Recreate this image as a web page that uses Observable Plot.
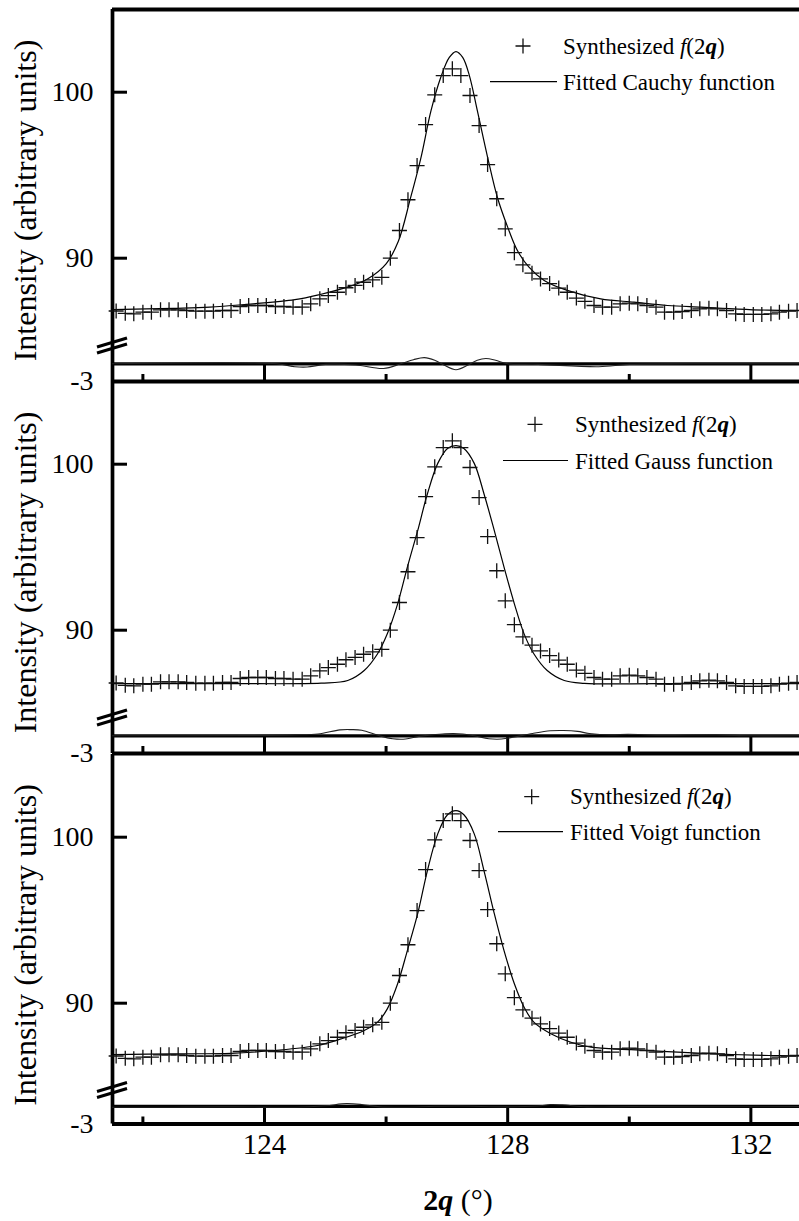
<!DOCTYPE html>
<html><head><meta charset="utf-8">
<script src="https://cdn.jsdelivr.net/npm/d3@7"></script>
<script src="https://cdn.jsdelivr.net/npm/@observablehq/plot@0.6"></script>
<style>
html,body{margin:0;padding:0;background:#fff;}
#chart{position:relative;width:799px;height:1221px;overflow:hidden;background:#fff;font-family:"Liberation Serif","Times New Roman",serif;}
#chart svg{position:absolute;left:0;overflow:visible;}
</style></head><body><div id="chart"></div>
<script>
// ---------- data ----------
const twoTheta = [121.56,121.71,121.85,122.00,122.14,122.29,122.43,122.58,122.72,122.87,
  123.02,123.16,123.31,123.45,123.60,123.74,123.89,124.03,124.18,124.32,
  124.47,124.62,124.76,124.91,125.05,125.20,125.34,125.49,125.63,125.78,
  125.93,126.07,126.22,126.36,126.51,126.65,126.80,126.94,127.09,127.23,
  127.38,127.53,127.67,127.82,127.96,128.11,128.25,128.40,128.54,128.69,
  128.84,128.98,129.13,129.27,129.42,129.56,129.71,129.85,130.00,130.14,
  130.29,130.44,130.58,130.73,130.87,131.02,131.16,131.31,131.45,131.60,
  131.75,131.89,132.04,132.18,132.33,132.47,132.62,132.76];
const synthesized = [86.82,86.68,86.65,86.75,86.75,86.89,86.89,86.89,86.85,86.81,
  86.81,86.81,86.85,86.85,87.09,87.15,87.15,87.15,87.09,87.09,
  87.05,87.05,87.25,87.55,87.75,87.95,88.22,88.36,88.55,88.70,
  88.85,90.00,91.67,93.52,95.58,98.05,99.84,101.00,101.41,101.00,
  99.80,97.99,95.64,93.58,91.77,90.33,89.60,89.10,88.75,88.47,
  88.20,87.95,87.60,87.40,87.15,87.05,87.05,87.25,87.29,87.25,
  87.15,87.05,86.75,86.75,86.79,86.85,86.95,86.99,86.95,86.85,
  86.65,86.61,86.61,86.61,86.65,86.75,86.81,86.85];

const cauchyX = [121.5,122.5,123.1,123.7,124.5,124.9,125.4,125.7,126.0,126.2,126.4,126.57,126.74,126.9,127.04,127.15,127.26,127.37,127.5,127.67,127.83,128.0,128.16,128.35,128.6,128.98,129.53,130.08,130.63,131.18,131.72,132.27,132.8];
const cauchyY = [86.90,86.98,87.05,87.22,87.50,87.80,88.30,88.76,89.66,91.00,93.60,96.00,98.90,100.90,102.10,102.45,102.10,101.00,98.90,96.08,93.67,91.87,90.46,89.46,88.66,88.06,87.55,87.35,87.15,87.05,86.95,86.87,86.85];

const gaussX = [121.5,122.5,123.45,124.93,125.37,125.64,125.86,126.02,126.19,126.35,126.52,126.68,126.85,127.01,127.15,127.28,127.45,127.61,127.78,127.94,128.11,128.27,128.43,128.65,128.93,129.26,130.5,132.8];
const gaussY = [86.78,86.78,86.78,86.81,86.97,87.57,88.58,89.78,91.59,93.80,96.00,98.22,100.05,100.95,101.12,100.95,100.05,98.22,96.00,93.80,91.59,89.78,88.58,87.57,86.97,86.80,86.78,86.78];

const voigtX = [121.5,122.5,123.45,124.16,124.87,125.26,125.64,125.86,126.02,126.19,126.35,126.52,126.68,126.85,127.01,127.15,127.28,127.45,127.61,127.78,127.94,128.11,128.27,128.43,128.71,129.04,129.37,130.03,130.8,131.6,132.3,132.8];
const voigtY = [86.90,86.95,86.98,87.15,87.45,87.85,88.36,88.86,89.66,91.17,93.17,95.39,97.99,100.20,101.35,101.60,101.35,100.20,97.99,95.39,93.17,91.17,89.76,88.86,88.16,87.65,87.35,87.20,87.05,86.92,86.85,86.82];

const cauchyResX = [121.5,124.2,124.5,124.7,125.0,125.5,125.96,126.24,126.45,126.63,126.8,126.95,127.15,127.35,127.5,127.64,127.8,128.0,128.5,129.5,130.0,131.0,132.8];
const cauchyRes  = [0,0,-0.5,-0.55,-0.1,-0.2,-0.8,0,0.7,1.05,0.6,-0.2,-1.0,-0.2,0.6,0.9,0.6,0,-0.1,-0.5,-0.1,0,0];

const gaussResX = [121.5,123.7,124.5,124.88,125.24,125.42,125.6,125.89,126.11,126.32,126.54,126.75,126.97,127.11,127.26,127.45,127.69,127.9,128.11,128.41,128.7,128.92,129.15,129.34,129.7,129.98,130.5,131.43,132.0,132.8];
const gaussRes  = [0,0.05,0.15,0.3,1.0,1.05,0.95,0,-0.5,-0.55,-0.1,0.15,0.35,0.4,0.3,0,-0.5,-0.55,-0.2,0.4,0.85,0.9,0.75,0.4,0.15,0.25,0.1,0.15,0,0];

const voigtResX = [121.5,122.5,123.5,124.5,125.0,125.35,125.6,125.9,126.3,126.8,127.2,128.0,128.5,128.7,128.9,129.3,130.0,131.0,132.8];
const voigtRes  = [-0.15,-0.15,-0.1,-0.15,0.1,0.45,0.3,-0.1,-0.15,0,0.05,-0.1,0.05,0.3,0.25,-0.1,-0.05,-0.1,-0.05];

const xMajorTicks = [124, 128, 132];
const xMinorTicks = [122, 126, 130];
const yTicks = [90, 100];
const residTicks = [-3];
const residZero = [0];
const fitNames = ["Cauchy", "Gauss", "Voigt"];

// ---------- layout ----------
const FONT = '"Liberation Serif","Times New Roman",serif';
const W = 799, ML = 112;
const xDomain = [121.5, 132.8];
const pxPerUnit = 16.6, residPxPerUnit = 5.9;
const upperH = 334;
const yHigh = 100 + 82.7 / pxPerUnit;
const yLow = yHigh - upperH / pxPerUnit;

const synth = twoTheta.map((x, i) => ({x, y: synthesized[i]}));
const zip = (xs, ys) => xs.map((x, i) => ({x, y: ys[i]}));

const panels = [
  {top: 9,     fit: zip(cauchyX, cauchyY), res: zip(cauchyResX, cauchyRes), rh: 38,
   plus: [523, 46], line: [490, 557, 81.7], tx: 563, b1: 53.5, b2: 90},
  {top: 381,   fit: zip(gaussX, gaussY), res: zip(gaussResX, gaussRes), rh: 38,
   plus: [535, 424.3], line: [503, 568, 460.5], tx: 575, b1: 431.5, b2: 468.5},
  {top: 753.5, fit: zip(voigtX, voigtY), res: zip(voigtResX, voigtRes), rh: 35.5,
   plus: [531.7, 796.7], line: [498, 563, 831.7], tx: 570, b1: 804, b2: 840}
];

const chart = document.getElementById("chart");
const baseStyle = {background: "transparent", overflow: "visible", fontFamily: FONT, color: "black"};

panels.forEach((p, k) => {
  const upper = Plot.plot({
    width: W, height: upperH,
    marginLeft: ML, marginRight: 0, marginTop: 0, marginBottom: 0,
    x: {domain: xDomain, axis: null},
    y: {domain: [yLow, yHigh], axis: null},
    style: baseStyle,
    marks: [
      Plot.ruleX([xDomain[0]], {stroke: "black", strokeWidth: 3.7}),
      k === 0 ? Plot.ruleY([yHigh], {stroke: "black", strokeWidth: 4}) : null,
      Plot.tickY(yTicks, {y: d => d, stroke: "black", strokeWidth: 3, insetRight: (W - ML) - 15}),
      Plot.text(yTicks, {y: d => d, text: d => String(d), frameAnchor: "left", dx: -19,
        textAnchor: "end", fontSize: 28, fontFamily: FONT, fill: "black"}),
      Plot.line(p.fit, {x: "x", y: "y", curve: "catmull-rom", stroke: "black", strokeWidth: 1.2}),
      Plot.dot(synth, {x: "x", y: "y", symbol: "plus", r: 4.9, stroke: "#111", strokeWidth: 1.3})
    ].filter(Boolean)
  });
  upper.style.top = p.top + "px";
  chart.appendChild(upper);

  const last = k === panels.length - 1;
  const resid = Plot.plot({
    width: W, height: p.rh,
    marginLeft: ML, marginRight: 0, marginTop: 0, marginBottom: 0,
    x: {domain: xDomain, axis: null},
    y: {domain: [-3, -3 + p.rh / residPxPerUnit], axis: null},
    style: baseStyle,
    marks: [
      Plot.ruleX([xDomain[0]], {stroke: "black", strokeWidth: 3.7}),
      Plot.ruleY(residZero, {stroke: "black", strokeWidth: 3.2}),
      Plot.ruleY(residTicks, {stroke: "black", strokeWidth: 4}),
      Plot.tickX(xMajorTicks, {x: d => d, stroke: "black", strokeWidth: 3, insetTop: p.rh - 17.5}),
      Plot.tickX(xMinorTicks, {x: d => d, stroke: "black", strokeWidth: 3, insetTop: p.rh - 7}),
      Plot.line(p.res, {x: "x", y: "y", curve: "catmull-rom", stroke: "#222", strokeWidth: 1.1}),
      Plot.text(residTicks, {y: d => d, text: d => String(d), frameAnchor: "left", dx: -19,
        textAnchor: "end", fontSize: 28, fontFamily: FONT, fill: "black"}),
      last ? Plot.text(xMajorTicks, {x: d => d, text: d => String(d), frameAnchor: "bottom",
        dy: 30, fontSize: 29, fontFamily: FONT, fill: "black"}) : null
    ].filter(Boolean)
  });
  resid.style.top = (p.top + upperH) + "px";
  chart.appendChild(resid);
});

// ---------- overlay: titles, legends, axis breaks ----------
const ov = d3.select(chart).append("svg")
  .attr("width", W).attr("height", 1221)
  .style("top", "0px").style("pointer-events", "none")
  .attr("font-family", FONT);

panels.forEach((p, k) => {
  // y title
  ov.append("text")
    .attr("transform", `translate(36,${p.top + 191.5}) rotate(-90)`)
    .attr("text-anchor", "middle").attr("font-size", 32).attr("fill", "black")
    .text("Intensity (arbitrary units)");
  // axis break marks
  const yb = p.top + upperH;
  [[4, -5], [10, 1]].forEach(([a, b]) => {
    ov.append("line").attr("x1", 97).attr("y1", yb + a).attr("x2", 127).attr("y2", yb + b)
      .attr("stroke", "black").attr("stroke-width", 3);
  });
  // legend
  const [px, py] = p.plus;
  ov.append("path").attr("d", `M${px - 7.5},${py}H${px + 7.5}M${px},${py - 7.5}V${py + 7.5}`)
    .attr("stroke", "#111").attr("stroke-width", 1.3).attr("fill", "none");
  ov.append("line").attr("x1", p.line[0]).attr("x2", p.line[1])
    .attr("y1", p.line[2]).attr("y2", p.line[2]).attr("stroke", "black").attr("stroke-width", 1.2);
  const t1 = ov.append("text").attr("x", p.tx).attr("y", p.b1).attr("font-size", 23).attr("fill", "black");
  t1.append("tspan").text("Synthesized ");
  t1.append("tspan").attr("font-style", "italic").text("f");
  t1.append("tspan").text("(2");
  t1.append("tspan").attr("font-style", "italic").attr("font-weight", "bold").text("q");
  t1.append("tspan").text(")");
  ov.append("text").attr("x", p.tx).attr("y", p.b2).attr("font-size", 23).attr("fill", "black")
    .text(`Fitted ${fitNames[k]} function`);
});

// x title
const xt = ov.append("text").attr("x", 458).attr("y", 1210).attr("text-anchor", "middle")
  .attr("font-size", 30).attr("fill", "black");
xt.append("tspan").attr("font-weight", "bold").text("2");
xt.append("tspan").attr("font-weight", "bold").attr("font-style", "italic").text("q");
xt.append("tspan").text(" (°)");
</script>
</body></html>
